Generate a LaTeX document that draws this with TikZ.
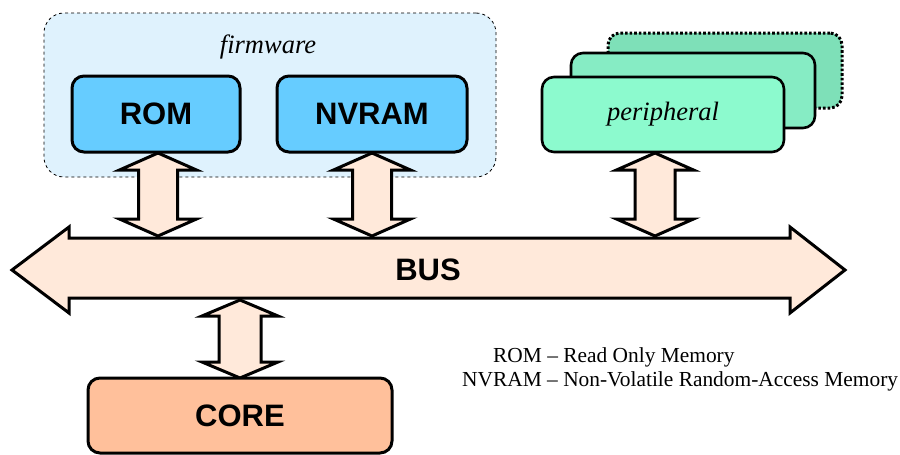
\documentclass[tikz,border=0pt]{standalone}
\usepackage{fontspec}
\setmainfont{Liberation Serif}
\setsansfont{Liberation Sans}
\usetikzlibrary{calc}
\definecolor{fwfill}{HTML}{DFF2FD}
\definecolor{memfill}{HTML}{66CCFF}
\definecolor{perA}{HTML}{8CFACE}
\definecolor{perB}{HTML}{86ECC4}
\definecolor{perC}{HTML}{7EE0B8}
\definecolor{arrfill}{HTML}{FFE9DA}
\definecolor{corefill}{HTML}{FFC09B}
\tikzset{
  membox/.style={draw=black,line width=3pt,rounded corners=12pt,fill=memfill,inner sep=0pt,
    font=\sffamily\bfseries\fontsize{31}{31}\selectfont},
  perbox/.style={draw=black,line width=2.6pt,rounded corners=12pt,inner sep=0pt},
  arr/.style={draw=black,line width=3pt,fill=arrfill,line join=miter},
  lbl/.style={font=\itshape\fontsize{26.5}{26.5}\selectfont},
  legend/.style={font=\fontsize{21.4}{21.4}\selectfont,anchor=west,inner sep=0pt}
}
% vertical double arrow: cx, top tip, bottom tip, head half width, shaft half width, head length
\newcommand\vdarrow[6]{%
  \draw[arr] (#1,#2) -- (#1+#4,#2+#6) -- (#1+#5,#2+#6) -- (#1+#5,#3-#6) -- (#1+#4,#3-#6)
    -- (#1,#3) -- (#1-#4,#3-#6) -- (#1-#5,#3-#6) -- (#1-#5,#2+#6) -- (#1-#4,#2+#6) -- cycle;}
\begin{document}
\begin{tikzpicture}[x=1pt,y=-1pt]
\useasboundingbox (0,0) rectangle (900,455);
% firmware group
\node[draw=black,dashed,line width=0.8pt,fill=fwfill,rounded corners=20pt,
  minimum width=452pt,minimum height=164pt,inner sep=0pt] (fw) at (270,95) {};
\node[lbl] (fwl) at (268,47) {firmware};
\node[membox,minimum width=168pt,minimum height=76pt] (rom) at (156,114) {ROM};
\node[membox,minimum width=190pt,minimum height=76pt] (nvram) at (372,114) {NVRAM};
% peripherals
\node[perbox,dotted,line width=3pt,fill=perC,minimum width=234pt,minimum height=75pt] (per3) at (725,70.5) {};
\node[perbox,fill=perB,minimum width=244pt,minimum height=75pt] (per2) at (693,90.5) {};
\node[perbox,fill=perA,minimum width=242pt,minimum height=75pt,lbl] (per1) at (663,114.5) {peripheral};
% bus
\draw[arr] (12,270) -- (69,227) -- (69,238) -- (790,238) -- (790,227) -- (845,270)
  -- (790,313) -- (790,298) -- (69,298) -- (69,313) -- cycle;
\node[font=\sffamily\bfseries\fontsize{31}{31}\selectfont] (bus) at (428,270) {BUS};
% vertical arrows
\vdarrow{158}{153}{236}{38.5}{19.5}{17}
\vdarrow{372}{153}{236}{38.5}{19.5}{17}
\vdarrow{655}{153}{236}{38.5}{20}{17}
\vdarrow{240}{300}{378}{38}{21}{16}
% core
\node[draw=black,line width=3pt,rounded corners=12pt,fill=corefill,inner sep=0pt,
  minimum width=304pt,minimum height=75pt,
  font=\sffamily\bfseries\fontsize{31}{31}\selectfont] (core) at (240,415.5) {CORE};
% legend
\node[legend] (lg1) at (493,357) {ROM – Read Only Memory};
\node[legend] (lg2) at (462,381) {NVRAM – Non-Volatile Random-Access Memory};
\end{tikzpicture}
\end{document}
